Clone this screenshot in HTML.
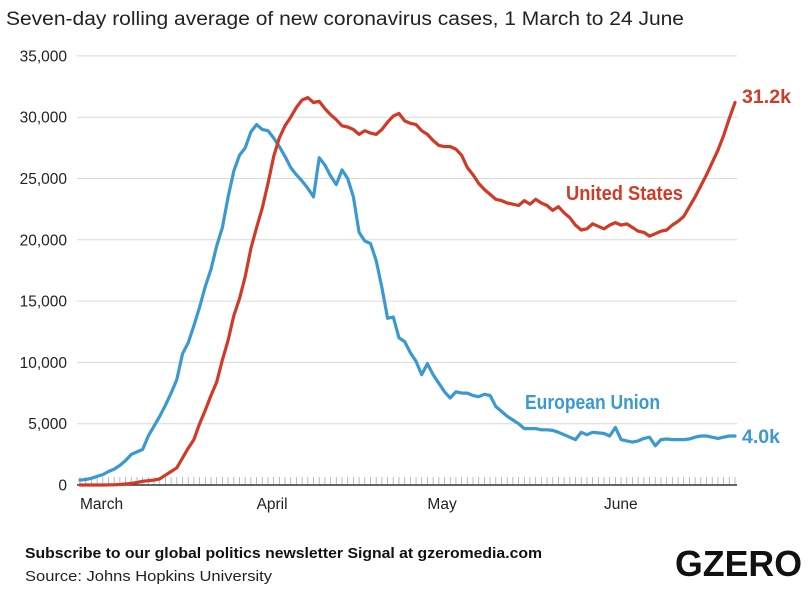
<!DOCTYPE html>
<html><head><meta charset="utf-8"><style>
body{margin:0;background:#fff;width:810px;height:592px;overflow:hidden;font-family:"Liberation Sans",sans-serif}
</style></head><body>
<svg width="810" height="592" viewBox="0 0 810 592">
<text x="6" y="25" font-size="19" fill="#222" textLength="678" lengthAdjust="spacingAndGlyphs">Seven-day rolling average of new coronavirus cases, 1 March to 24 June</text>
<g id="grid"></g><g id="ticks"></g><g id="lines"></g>
<text x="742" y="103" font-size="19" font-weight="bold" fill="#d03a27" textLength="49" lengthAdjust="spacingAndGlyphs">31.2k</text>
<text x="742" y="443" font-size="19" font-weight="bold" fill="#3a9ad0" textLength="38" lengthAdjust="spacingAndGlyphs">4.0k</text>
<text x="566" y="200" font-size="20" font-weight="bold" fill="#d03a27" textLength="117" lengthAdjust="spacingAndGlyphs">United States</text>
<text x="525" y="409" font-size="20" font-weight="bold" fill="#3a9ad0" textLength="135" lengthAdjust="spacingAndGlyphs">European Union</text>
<text x="25" y="558" font-size="15" font-weight="bold" fill="#111" textLength="517" lengthAdjust="spacingAndGlyphs">Subscribe to our global politics newsletter Signal at gzeromedia.com</text>
<text x="25" y="581" font-size="15" fill="#222" textLength="247" lengthAdjust="spacingAndGlyphs">Source: Johns Hopkins University</text>
<text x="675" y="576" font-size="36" font-weight="bold" fill="#111" textLength="127" lengthAdjust="spacingAndGlyphs">GZERO</text>
</svg>
<script>
const yTicks=[0,5000,10000,15000,20000,25000,30000,35000];
const months=["March","April","May","June"];
const monthStart=[0,31,61,92];
const eu=[400,450,550,700,850,1100,1300,1600,2000,2500,2700,2900,4000,4800,5600,6500,7500,8600,10700,11600,13000,14500,16200,17600,19500,21000,23500,25600,26900,27500,28800,29400,29000,28900,28300,27600,26800,25900,25300,24800,24200,23500,26700,26100,25200,24500,25700,25000,23500,20600,19900,19700,18300,16100,13600,13700,12000,11700,10800,10100,9000,9900,9000,8300,7600,7100,7600,7500,7500,7300,7200,7400,7300,6400,6000,5600,5300,5000,4600,4600,4600,4500,4500,4450,4300,4100,3900,3700,4300,4100,4300,4250,4200,4000,4700,3700,3600,3500,3600,3800,3900,3200,3700,3750,3700,3700,3700,3750,3900,4000,4000,3900,3800,3900,4000,4000];
const us=[0,0,0,0,0,10,20,40,80,130,200,300,350,400,500,800,1100,1400,2200,3000,3700,5000,6100,7300,8400,10200,11800,13800,15200,17000,19300,21000,22600,24600,26800,28300,29300,30000,30800,31400,31600,31200,31300,30700,30200,29800,29300,29200,29000,28600,28900,28700,28600,29000,29600,30100,30300,29700,29500,29400,28900,28600,28100,27700,27600,27600,27400,26900,25900,25300,24600,24100,23700,23300,23200,23000,22900,22800,23200,22900,23300,23000,22800,22400,22700,22200,21800,21200,20800,20900,21300,21100,20900,21200,21400,21200,21300,21000,20700,20600,20300,20500,20700,20800,21200,21500,21900,22700,23500,24400,25300,26300,27300,28500,29900,31200];
const NS="http://www.w3.org/2000/svg";
const x0=80,x1=735,y0=485,yTop=55.9;
const nDays=eu.length;
const X=i=>x0+(x1-x0)*i/(nDays-1);
const Y=v=>y0-(y0-yTop)*v/35000;
function mk(tag,attrs,parent,text){const e=document.createElementNS(NS,tag);for(const k in attrs)e.setAttribute(k,attrs[k]);if(text!==undefined)e.textContent=text;document.getElementById(parent).appendChild(e);return e;}
yTicks.forEach(v=>{
  if(v>0){const l=mk('line',{x1:77,x2:737,y1:Y(v),y2:Y(v),stroke:'#d9d9d9','stroke-width':1},'grid');
  
  }
  const t=mk('text',{x:67,y:Y(v)+5.5,'text-anchor':'end','font-size':15.5,fill:'#222'},'grid',v.toLocaleString('en-US'));
  
  
});
for(let i=0;i<nDays;i++){
  const t=mk('line',{x1:X(i),x2:X(i),y1:y0-8,y2:y0,stroke:'#aaa','stroke-width':0.8},'ticks');
  
  
}
const base=mk('line',{x1:77,x2:737,y1:y0,y2:y0,stroke:'#333','stroke-width':1.5},'ticks');


months.forEach((m,k)=>{
  const t=mk('text',{x:X(monthStart[k]),y:509,'font-size':15.5,fill:'#222'},'ticks',m);
  
  
});
function line(d,col,name){
  const p=mk('polyline',{points:d.map((v,i)=>X(i).toFixed(1)+','+Y(v).toFixed(1)).join(' '),fill:'none',stroke:col,'stroke-width':3.2,'stroke-linejoin':'round','stroke-linecap':'round'},'lines');
  
  
}
line(eu,'#3a9ad0','eu-line');
line(us,'#d03a27','us-line');
</script>
</body></html>
